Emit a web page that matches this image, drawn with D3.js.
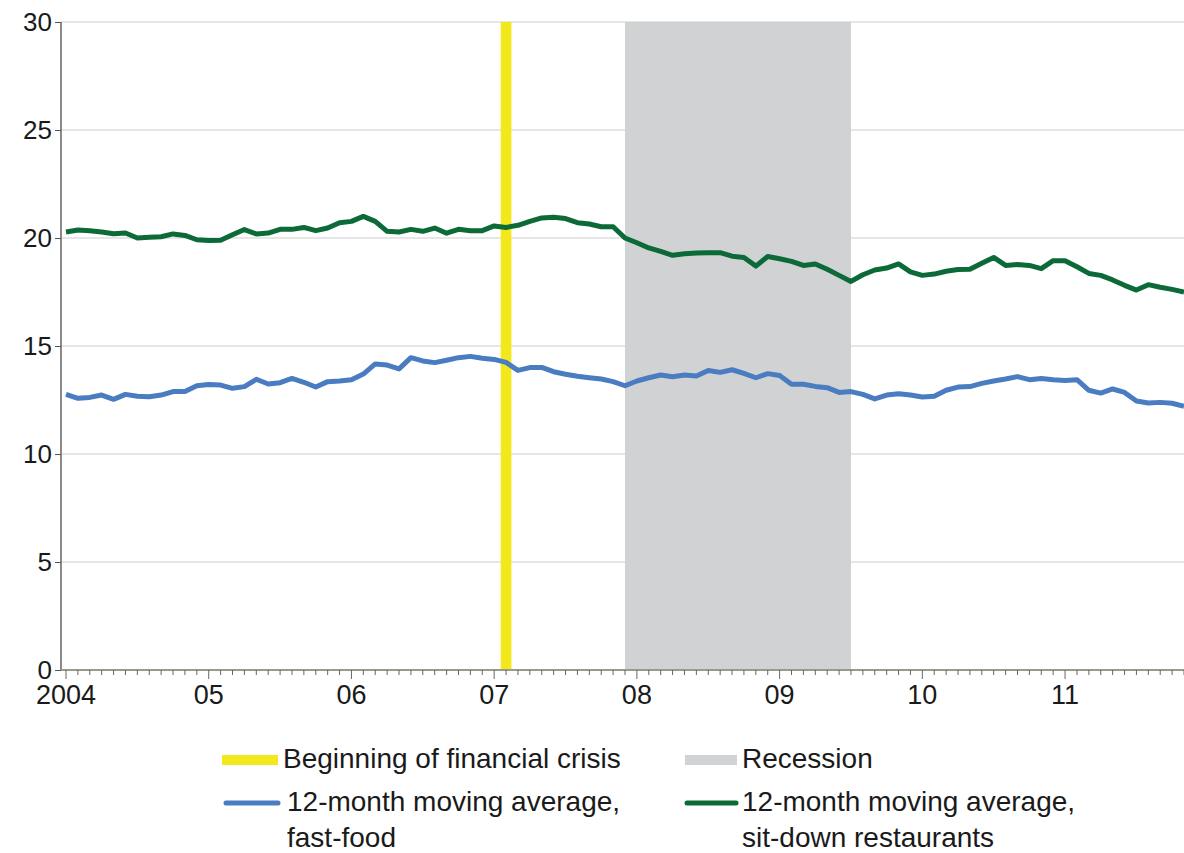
<!DOCTYPE html>
<html><head><meta charset="utf-8">
<script src="https://cdn.jsdelivr.net/npm/d3@7"></script>
<style>
html,body{margin:0;padding:0;background:#fff;}
svg{display:block;font-family:"Liberation Sans",Arial,Helvetica,sans-serif;}
</style></head>
<body>
<svg id="chart" width="1184" height="853"></svg>
<script>
// Months indexed from Jan 2004 (0) to Nov 2011 (94)
const yearLabels = ["2004","05","06","07","08","09","10","11"];
const yTicks = [0,5,10,15,20,25,30];

const fastFood = [
12.76,12.58,12.62,12.73,12.53,12.76,12.67,12.65,12.73,12.89,12.89,13.16,13.22,13.19,13.04,13.12,13.46,13.24,13.3,
13.5,13.32,13.1,13.35,13.38,13.44,13.7,14.17,14.12,13.94,14.46,14.31,14.23,14.34,14.46,14.52,14.43,14.38,14.24,
13.87,14.0,14.01,13.81,13.69,13.6,13.53,13.47,13.35,13.16,13.38,13.53,13.66,13.58,13.66,13.61,13.87,13.78,13.9,
13.73,13.53,13.72,13.63,13.23,13.23,13.13,13.07,12.85,12.89,12.76,12.55,12.73,12.79,12.73,12.64,12.67,12.95,13.1,
13.12,13.27,13.38,13.47,13.58,13.44,13.5,13.44,13.4,13.44,12.95,12.82,13.01,12.85,12.45,12.36,12.39,12.35,12.21
];
const sitDown = [
20.28,20.37,20.34,20.28,20.2,20.23,20.0,20.03,20.06,20.19,20.12,19.92,19.88,19.9,20.15,20.39,20.19,20.23,20.4,
20.4,20.49,20.34,20.46,20.71,20.77,21.0,20.77,20.31,20.28,20.4,20.31,20.46,20.22,20.4,20.34,20.34,20.56,20.49,
20.59,20.77,20.93,20.96,20.9,20.71,20.65,20.52,20.52,20.0,19.78,19.54,19.38,19.2,19.27,19.31,19.32,19.32,19.16,
19.1,18.7,19.14,19.04,18.92,18.73,18.8,18.55,18.27,17.99,18.3,18.52,18.61,18.8,18.43,18.27,18.33,18.46,18.54,
18.55,18.83,19.1,18.73,18.77,18.73,18.58,18.95,18.95,18.67,18.36,18.27,18.06,17.81,17.59,17.84,17.72,17.62,17.5
];
const crisisMonth = 37;          // Feb 2007
const recessionStart = 47;       // Dec 2007
const recessionEnd = 66;         // end of Jun 2009

const legendItems = [
  {label:["Beginning of financial crisis"], kind:"bar", color:"#f2e81c"},
  {label:["Recession"], kind:"bar", color:"#d1d2d4"},
  {label:["12-month moving average,","fast-food"], kind:"line", color:"#4a7cc1"},
  {label:["12-month moving average,","sit-down restaurants"], kind:"line", color:"#0b6a37"}
];

const svg = d3.select("#chart");
const pLeft = 61, pRight = 1184, pTop = 22, pBottom = 670;
const x = d3.scaleLinear().domain([0, 94]).range([66, 1184]);
const y = d3.scaleLinear().domain([0, 30]).range([pBottom, pTop]);

// gridlines
svg.append("g").selectAll("line").data(yTicks.filter(d=>d>0)).join("line")
  .attr("x1", pLeft).attr("x2", pRight).attr("y1", d=>y(d)).attr("y2", d=>y(d))
  .attr("stroke", "#dedede").attr("stroke-width", 1.3);

// recession
svg.append("rect").attr("x", x(recessionStart)).attr("y", pTop)
  .attr("width", x(recessionEnd) - x(recessionStart)).attr("height", pBottom - pTop)
  .attr("fill", "#d1d2d4");
// crisis bar
svg.append("rect").attr("x", x(crisisMonth - 0.45)).attr("y", pTop)
  .attr("width", x(crisisMonth + 0.45) - x(crisisMonth - 0.45)).attr("height", pBottom - pTop)
  .attr("fill", "#f2e81c");

// lines
const line = d3.line().x((d,i)=>x(i)).y(d=>y(d));
svg.append("path").datum(sitDown).attr("d", line).attr("fill","none")
  .attr("stroke","#0b6a37").attr("stroke-width",5).attr("stroke-linejoin","round");
svg.append("path").datum(fastFood).attr("d", line).attr("fill","none")
  .attr("stroke","#4a7cc1").attr("stroke-width",5).attr("stroke-linejoin","round");

// y axis
const yAxis = d3.axisLeft(y).tickValues(yTicks).tickSize(6).tickPadding(3);
const gy = svg.append("g").attr("transform", `translate(${pLeft},0)`).call(yAxis);
gy.select(".domain").attr("stroke","#8a8a8a").attr("stroke-width",2).attr("d", `M0,${pTop}V${pBottom}`);
gy.selectAll(".tick line").attr("stroke","#555");
gy.selectAll(".tick text").attr("font-size", 26).attr("fill","#1a1a1a")
  .attr("font-family","'Liberation Sans',Arial,sans-serif").attr("dy","0.34em");

// x axis: monthly minor ticks, yearly major ticks
const months = d3.range(0, 95);
const gx = svg.append("g");
gx.append("line").attr("x1", pLeft).attr("x2", pRight).attr("y1", pBottom).attr("y2", pBottom)
  .attr("stroke","#9a9a8a").attr("stroke-width",2);
gx.selectAll("line.tick").data(months).join("line").attr("class","tick")
  .attr("x1", d=>x(d)).attr("x2", d=>x(d)).attr("y1", pBottom)
  .attr("y2", d=> d % 12 === 0 ? pBottom + 9 : pBottom + 5)
  .attr("stroke","#666").attr("stroke-width",1);
gx.selectAll("text").data(yearLabels).join("text")
  .attr("x", (d,i)=>x(i*12)).attr("y", pBottom + 34)
  .attr("text-anchor","middle").attr("font-size",27).attr("fill","#1a1a1a").text(d=>d);

// legend
const legPos = [[222,760],[685,760],[224,803],[685,803]];
const textX = [283, 742, 287, 742];
const lg = svg.append("g");
legendItems.forEach((it,i)=>{
  const [lx, ly] = legPos[i];
  if (it.kind === "bar") {
    lg.append("rect").attr("x", lx).attr("y", ly-5).attr("width", i===0 ? 56 : 52).attr("height", 10).attr("fill", it.color);
  } else {
    lg.append("line").attr("x1", lx+2).attr("x2", lx+(i===3?51:54)).attr("y1", ly).attr("y2", ly)
      .attr("stroke", it.color).attr("stroke-width", 5).attr("stroke-linecap","round");
  }
  const t = lg.append("text").attr("x", textX[i]).attr("y", ly + 8)
    .attr("font-size", 28).attr("fill","#1a1a1a");
  it.label.forEach((s,j)=>{
    t.append("tspan").attr("x", textX[i]).attr("dy", j===0?0:36).text(s);
  });
});
</script>
</body></html>
